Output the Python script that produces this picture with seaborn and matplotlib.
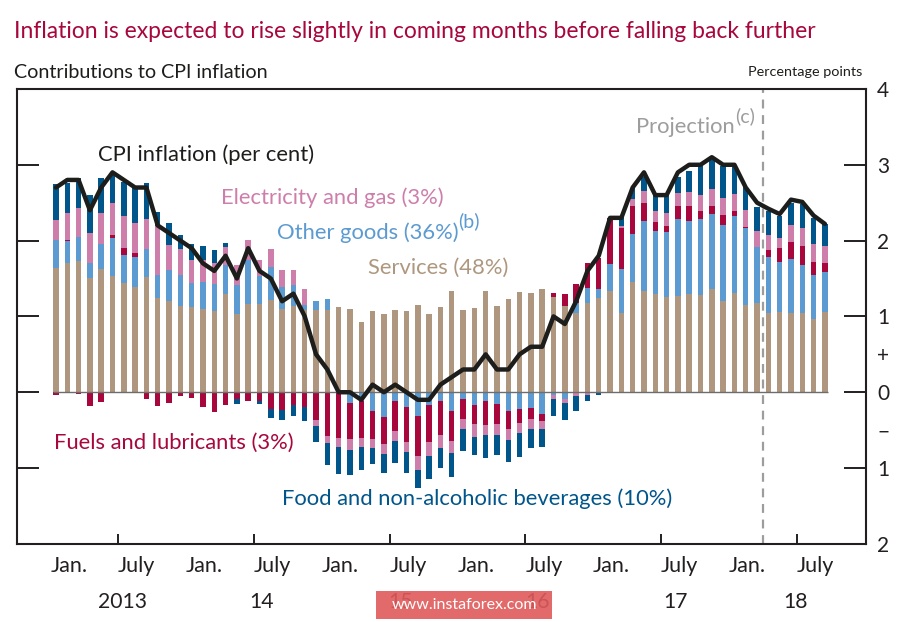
import matplotlib
matplotlib.use('Agg')
import matplotlib.pyplot as plt
import matplotlib.transforms as mtransforms
from matplotlib.patches import Rectangle
import numpy as np
import pandas as pd
import seaborn as sns


# monthly data, Jan. 2013 to Sep. 2018 (projection from Apr. 2018)
start_year = 2013
projection_start = 2018.25

cpi = [2.7, 2.8, 2.8, 2.4, 2.7, 2.9, 2.8, 2.7, 2.7, 2.2, 2.1, 2.0,
       1.9, 1.7, 1.6, 1.8, 1.5, 1.9, 1.6, 1.5, 1.2, 1.3, 1.0, 0.5,
       0.3, 0.0, 0.0, -0.1, 0.1, 0.0, 0.1, 0.0, -0.1, -0.1, 0.1, 0.2,
       0.3, 0.3, 0.5, 0.3, 0.3, 0.5, 0.6, 0.6, 1.0, 0.9, 1.2, 1.6,
       1.8, 2.3, 2.3, 2.7, 2.9, 2.6, 2.6, 2.9, 3.0, 3.0, 3.1, 3.0,
       3.0, 2.7, 2.5, 2.42, 2.35, 2.54, 2.51, 2.33, 2.22]

services = [1.64, 1.70, 1.73, 1.51, 1.62, 1.53, 1.44, 1.39, 1.52, 1.24, 1.20, 1.14,
            1.12, 1.10, 1.07, 1.30, 1.03, 1.17, 1.17, 1.22, 1.10, 1.14, 1.08, 1.08,
            1.08, 1.12, 1.10, 0.93, 1.07, 1.03, 1.09, 1.07, 1.15, 1.03, 1.13, 1.34,
            1.09, 1.11, 1.33, 1.14, 1.23, 1.32, 1.31, 1.36, 1.25, 1.14, 1.04, 1.18,
            1.24, 1.33, 1.04, 1.46, 1.34, 1.29, 1.25, 1.27, 1.30, 1.28, 1.36, 1.20,
            1.31, 1.15, 1.18, 1.04, 1.06, 1.04, 1.05, 0.97, 1.06]

other_goods = [0.37, 0.29, 0.32, 0.20, 0.34, 0.50, 0.37, 0.39, 0.37, 0.30, 0.41, 0.40,
               0.32, 0.36, 0.36, 0.38, 0.38, 0.57, 0.36, 0.43, 0.29, 0.27, 0.07, 0.12,
               0.15, 0.00, -0.14, -0.12, -0.25, -0.33, -0.12, -0.20, -0.31, -0.17, -0.11, -0.25,
               -0.09, -0.17, -0.11, -0.16, -0.25, -0.22, -0.21, -0.29, -0.04, -0.09, 0.14, 0.20,
               0.12, 0.36, 0.59, 0.63, 0.92, 0.83, 0.86, 1.02, 0.96, 1.00, 0.99, 1.00,
               1.01, 1.01, 0.74, 0.74, 0.66, 0.72, 0.63, 0.57, 0.53]

fuels = [-0.03, 0.02, -0.02, -0.18, -0.13, 0.04, 0.09, 0.05, -0.09, -0.18, -0.14, -0.05,
         -0.07, -0.20, -0.26, -0.17, -0.09, -0.11, -0.11, -0.22, -0.23, -0.17, -0.20, -0.36,
         -0.58, -0.61, -0.48, -0.48, -0.37, -0.35, -0.39, -0.45, -0.53, -0.49, -0.45, -0.39,
         -0.26, -0.25, -0.32, -0.26, -0.24, -0.19, -0.14, -0.09, 0.06, 0.15, 0.25, 0.32,
         0.41, 0.61, 0.53, 0.37, 0.24, 0.13, 0.08, 0.16, 0.20, 0.11, 0.11, 0.14,
         0.07, 0.02, 0.00, 0.10, 0.18, 0.22, 0.25, 0.18, 0.12]

electricity = [0.26, 0.36, 0.38, 0.39, 0.40, 0.42, 0.43, 0.40, 0.40, 0.65, 0.33, 0.35,
               0.30, 0.28, 0.27, 0.23, 0.27, 0.27, 0.22, 0.24, 0.22, 0.20, 0.21, -0.09,
               -0.09, -0.11, -0.14, -0.12, -0.12, -0.13, -0.13, -0.14, -0.18, -0.18, -0.18, -0.16,
               -0.14, -0.17, -0.14, -0.15, -0.14, -0.13, -0.13, -0.11, -0.05, -0.05, -0.05, -0.03,
               0.00, 0.00, 0.03, 0.09, 0.15, 0.14, 0.17, 0.18, 0.18, 0.21, 0.22, 0.22,
               0.22, 0.22, 0.21, 0.20, 0.14, 0.22, 0.24, 0.23, 0.22]

food = [0.47, 0.39, 0.40, 0.50, 0.47, 0.39, 0.44, 0.48, 0.47, 0.19, 0.29, 0.19,
        0.22, 0.19, 0.18, 0.06, -0.07, 0.00, -0.05, -0.12, -0.14, -0.15, -0.18, -0.20,
        -0.29, -0.36, -0.33, -0.31, -0.21, -0.25, -0.29, -0.27, -0.24, -0.30, -0.26, -0.32,
        -0.29, -0.24, -0.30, -0.26, -0.29, -0.31, -0.26, -0.23, -0.23, -0.23, -0.20, -0.08,
        -0.04, 0.00, 0.12, 0.15, 0.19, 0.24, 0.26, 0.21, 0.28, 0.39, 0.38, 0.43,
        0.36, 0.31, 0.31, 0.31, 0.29, 0.29, 0.31, 0.35, 0.29]

components = ['Services', 'Other goods', 'Fuels', 'Electricity', 'Food']
colours = ['#ae977e', '#5b9bd1', '#a8073d', '#cd7eaa', '#00558b']

title_red = '#a8073d'
label_size = 15.8


def main():
	''' stacked contributions with the CPI line on top'''

	sns.set_theme(style='white')
	plt.rcParams['font.family'] = ['Lato', 'DejaVu Sans']

	n = len(cpi)
	x = start_year + (np.arange(n) + 0.5) / 12.0
	df = pd.DataFrame({'x': x, 'cpi': cpi, 'Services': services,
	                   'Other goods': other_goods, 'Fuels': fuels,
	                   'Electricity': electricity, 'Food': food})

	fig = plt.figure(figsize=(9.24, 6.22), dpi=100)
	ax = fig.add_axes([0.0189, 0.1256, 0.9183, 0.7314])

	# stack positives up and negatives down
	width = 0.48 / 12.0
	pos = np.zeros(n)
	neg = np.zeros(n)
	for name, col in zip(components, colours):
		vals = df[name].values
		bottom = np.where(vals >= 0, pos, neg)
		ax.bar(df['x'], vals, width=width, bottom=bottom, color=col,
		       edgecolor='none', zorder=2)
		pos = pos + np.clip(vals, 0, None)
		neg = neg + np.clip(vals, None, 0)

	ax.hlines(0, x[0] - width / 2, x[-1] + width / 2, color='#6d6d6d',
	          linewidth=1, zorder=3)

	sns.lineplot(data=df, x='x', y='cpi', color='#1d1d1b', linewidth=3.2,
	             ax=ax, zorder=4, legend=False)

	ax.axvline(projection_start, color='#9d9d9d', linewidth=1.6,
	           linestyle=(0, (4, 3)), zorder=1)

	ax.set_xlim(2012.758, 2019.011)
	ax.set_ylim(-2, 4)
	ax.set_xlabel('')
	ax.set_ylabel('')

	for s in ax.spines.values():
		s.set_visible(True)
		s.set_color('#231f20')
		s.set_linewidth(1.5)

	# x axis: Jan. on year ticks, July on half-year ticks
	years = np.arange(start_year, 2019)
	ax.set_xticks(years)
	ax.set_xticklabels(['Jan.'] * len(years))
	ax.set_xticks(years + 0.5, minor=True)
	ax.set_xticklabels(['July'] * len(years), minor=True)
	ax.tick_params(axis='x', which='major', direction='in', length=15.5,
	               width=1.4, color='#231f20', pad=8.5, labelsize=15.5)
	ax.tick_params(axis='x', which='minor', direction='in', length=7,
	               width=1.4, color='#231f20', pad=8.5, labelsize=15.5, bottom=True)
	for lbl in ax.get_xticklabels() + ax.get_xticklabels(minor=True):
		lbl.set_ha('left')
		lbl.set_color('#231f20')

	# y axis: labels on the right, '+' and '−' between
	ax.set_yticks([-1, 0, 1, 2, 3])
	ax.set_yticklabels(['1', '0', '1', '2', '3'])
	ax.set_yticks([-2, -0.5, 0.5, 4], minor=True)
	ax.set_yticklabels(['2', '\u2212', '+', '4'], minor=True)
	ax.tick_params(axis='y', which='major', direction='in', length=15.5,
	               width=1.4, color='#231f20', left=True, right=True,
	               labelleft=False, labelright=True, pad=8, labelsize=15)
	ax.tick_params(axis='y', which='minor', direction='in', length=0,
	               left=False, right=True, labelleft=False, labelright=True,
	               pad=8, labelsize=15)
	for lbl in ax.get_yticklabels() + ax.get_yticklabels(minor=True):
		lbl.set_color('#231f20')

	# year labels under the months
	year_tr = mtransforms.blended_transform_factory(ax.transData, fig.transFigure)
	year_pos = [2013.535, 2014.56, 2015.58, 2016.59, 2017.61, 2018.49]
	year_txt = ['2013', '14', '15', '16', '17', '18']
	for xp, t in zip(year_pos, year_txt):
		ax.text(xp, 1 - 602 / 622, t, transform=year_tr, ha='center',
		        va='center', fontsize=15.2, color='#231f20')

	# series labels
	ax.text(2013.35, 3.13, 'CPI inflation (per cent)', fontsize=label_size,
	        color='#1d1d1b', va='center')
	ax.text(2014.26, 2.57, 'Electricity and gas (3%)', fontsize=label_size,
	        color=colours[3], va='center')
	t_other = ax.text(2014.67, 2.11, 'Other goods (36%)', fontsize=label_size,
	                  color=colours[1], va='center')
	ax.annotate('(b)', xy=(1.0, 1.05), xycoords=t_other, fontsize=14,
	            color=colours[1], ha='left', va='center')
	ax.text(2015.34, 1.64, 'Services (48%)', fontsize=label_size,
	        color=colours[0], va='center')
	ax.text(2013.027, -0.67, 'Fuels and lubricants (3%)', fontsize=label_size,
	        color=colours[2], va='center')
	ax.text(2014.71, -1.40, 'Food and non-alcoholic beverages (10%)',
	        fontsize=label_size, color=colours[4], va='center')
	t_proj = ax.text(2018.045, 3.50, 'Projection', fontsize=label_size,
	                 color='#9d9d9d', va='center', ha='right')
	ax.annotate('(c)', xy=(1.0, 1.05), xycoords=t_proj, fontsize=14,
	            color='#9d9d9d', ha='left', va='center')

	# titles
	fig.text(14 / 924, 1 - 31 / 622,
	         'Inflation is expected to rise slightly in coming months before falling back further',
	         fontsize=16.5, color=title_red, va='center', ha='left')
	fig.text(14 / 924, 1 - 72 / 622, 'Contributions to CPI inflation',
	         fontsize=14.2, color='#1d1d1b', va='center', ha='left')
	fig.text(862 / 924, 1 - 72 / 622, 'Percentage points',
	         fontsize=10.4, color='#1d1d1b', va='center', ha='right')

	# site watermark
	fig.patches.append(Rectangle((376 / 924, 3 / 622), 176 / 924, 28 / 622,
	                             transform=fig.transFigure, facecolor='#e05a5a',
	                             alpha=0.9, edgecolor='none', zorder=5))
	fig.text(464 / 924, 1 - 605 / 622, 'www.instaforex.com', fontsize=11.5,
	         color='white', ha='center', va='center', zorder=6)

	plt.savefig('out.png', dpi=100)


if __name__ == '__main__':
	main()
